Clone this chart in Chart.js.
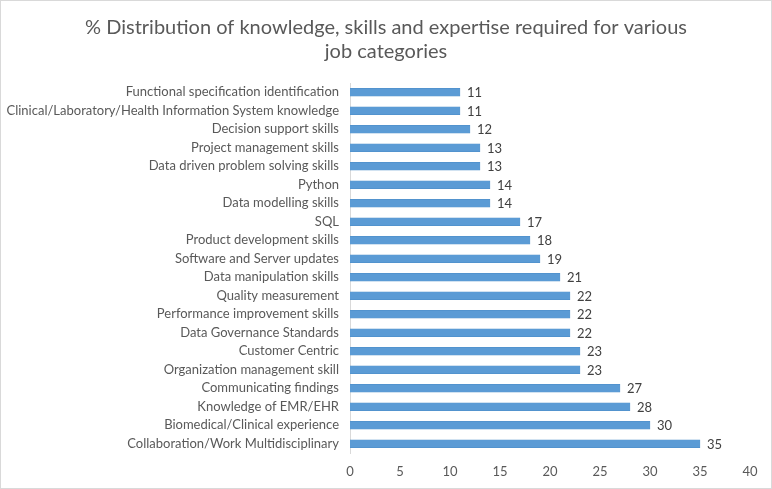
<!DOCTYPE html>
<html>
<head>
<meta charset="utf-8">
<script src="https://cdn.jsdelivr.net/npm/chart.js@4/dist/chart.umd.min.js"></script>
<style>
  body { margin: 0; background: #fff; }
  .chart { position: relative; width: 772px; height: 489px; background: #fff; box-shadow: inset 0 0 0 1px #d9d9d9; }
</style>
</head>
<body>
<div class="chart"><canvas id="chart" width="772" height="489"></canvas></div>
<script>
const titleLines = ['% Distribution of knowledge, skills and expertise required for various', 'job categories'];
const categories = [
  'Functional specification identification',
  'Clinical/Laboratory/Health Information System knowledge',
  'Decision support skills',
  'Project management skills',
  'Data driven problem solving skills',
  'Python',
  'Data modelling skills',
  'SQL',
  'Product development skills',
  'Software and Server updates',
  'Data manipulation skills',
  'Quality measurement',
  'Performance improvement skills',
  'Data Governance Standards',
  'Customer Centric',
  'Organization management skill',
  'Communicating findings',
  'Knowledge of EMR/EHR',
  'Biomedical/Clinical experience',
  'Collaboration/Work Multidisciplinary',
];
const values = [11, 11, 12, 13, 13, 14, 14, 17, 18, 19, 21, 22, 22, 22, 23, 23, 27, 28, 30, 35];
const xTicks = [0, 5, 10, 15, 20, 25, 30, 35, 40];

const FONT = "Lato, 'Open Sans', sans-serif";
const TEXT = '#595959';

// title centred on the whole canvas, not on the padded layout box
const centredTitle = {
  id: 'centredTitle',
  afterDraw(chart) {
    const ctx = chart.ctx;
    ctx.save();
    ctx.font = '20px ' + FONT;
    ctx.fillStyle = TEXT;
    ctx.textAlign = 'center';
    ctx.textBaseline = 'middle';
    titleLines.forEach((line, i) => ctx.fillText(line, chart.width / 2, 28 + i * 24));
    ctx.restore();
  },
};

// labels at the end of each bar
const barLabels = {
  id: 'barLabels',
  afterDatasetsDraw(chart) {
    const ctx = chart.ctx;
    const meta = chart.getDatasetMeta(0);
    ctx.save();
    ctx.font = '13px ' + FONT;
    ctx.fillStyle = '#404040';
    ctx.textAlign = 'left';
    ctx.textBaseline = 'middle';
    meta.data.forEach((bar, i) => {
      ctx.fillText(values[i], bar.x + 7, bar.y + 1);
    });
    ctx.restore();
  },
};

new Chart(document.getElementById('chart'), {
  type: 'bar',
  data: {
    labels: categories,
    datasets: [{
      data: values,
      backgroundColor: '#5b9bd5',
      borderColor: '#4a8ac6',
      borderWidth: 0.5,
      barThickness: 8,
    }],
  },
  options: {
    indexAxis: 'y',
    responsive: false,
    animation: false,
    layout: { padding: { top: 83, right: 22, bottom: 0, left: 0 } },
    plugins: {
      legend: { display: false },
      tooltip: { enabled: false },
      title: { display: false },
    },
    scales: {
      x: {
        min: 0,
        max: 40,
        afterBuildTicks(scale) { scale.ticks = xTicks.map(v => ({ value: v })); },
        afterFit(scale) { scale.height = 36; },
        grid: { display: false, drawTicks: false },
        border: { display: false },
        ticks: { color: TEXT, padding: 11, font: { family: FONT, size: 13 } },
      },
      y: {
        afterFit(scale) { scale.width = 350; },
        grid: { display: false, drawTicks: false },
        border: { display: true, color: '#d9d9d9', width: 1 },
        ticks: { color: TEXT, padding: 11, autoSkip: false, font: { family: FONT, size: 13 } },
      },
    },
  },
  plugins: [barLabels, centredTitle],
});
</script>
</body>
</html>
